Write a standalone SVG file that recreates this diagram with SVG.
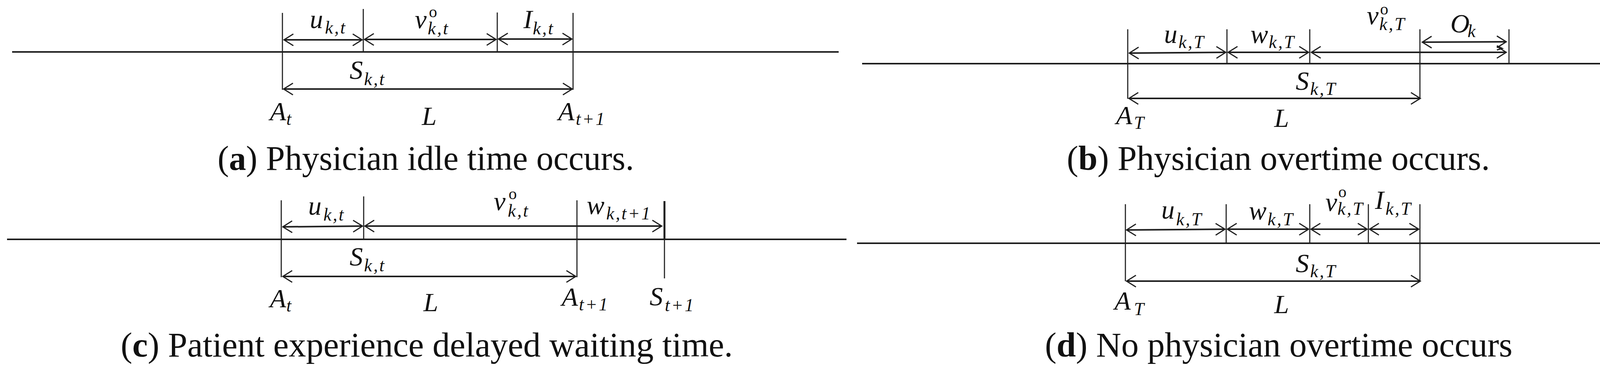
<svg xmlns="http://www.w3.org/2000/svg" width="4370" height="963" viewBox="0 0 4370 963">
<style>
.ln{stroke:#1e1e1e;stroke-width:4;fill:none}
.tk{stroke:#1e1e1e;stroke-width:2.8;fill:none}
.tkb{stroke:#1e1e1e;stroke-width:5;fill:none}
.ar{stroke:#1e1e1e;stroke-width:4;fill:none;marker-start:url(#h);marker-end:url(#h)}
.ae{stroke:#1e1e1e;stroke-width:4;fill:none;marker-end:url(#h)}
.zz{stroke:#1e1e1e;stroke-width:3;fill:none}
.m{font-family:"Liberation Serif","DejaVu Serif",serif;font-style:italic;font-size:68px;fill:#111}
.s{font-size:46px;letter-spacing:3.5px}
.o{font-style:normal;font-size:42px;letter-spacing:0}
.cap{font-family:"Liberation Serif","DejaVu Serif",serif;font-size:88px;fill:#111}
.cap .b{font-weight:bold}
</style>
<defs>
<marker id="h" markerUnits="userSpaceOnUse" viewBox="-30 -20 34 40" refX="0" refY="0" markerWidth="34" markerHeight="40" orient="auto-start-reverse">
<path d="M-24,-15 L0,0 L-24,15" fill="none" stroke="#1e1e1e" stroke-width="3"/>
</marker>
</defs>
<rect width="4370" height="963" fill="#fff"/>

<g id="panel-a">
<g id="a-connectors">
<line class="ln" x1="31" y1="133" x2="2147" y2="133"/>
<line class="tk" x1="723" y1="33" x2="723" y2="230"/>
<line class="tk" x1="930" y1="23" x2="930" y2="133"/>
<line class="tk" x1="1273" y1="32" x2="1273" y2="133"/>
<line class="tk" x1="1467" y1="33" x2="1467" y2="230"/>
<line class="ar" x1="727" y1="102" x2="927" y2="102"/>
<line class="ar" x1="933" y1="101" x2="1270" y2="101"/>
<line class="ar" x1="1276" y1="100" x2="1464" y2="100"/>
<line class="ar" x1="726" y1="228" x2="1465" y2="228"/>
</g>
<g id="a-labels">
<text class="m" x="793" y="72">u<tspan class="s" x="832" y="86">k,t</tspan></text>
<text class="m" x="1062" y="72">v<tspan class="o" x="1098" y="44">o</tspan><tspan class="s" x="1095" y="88">k,t</tspan></text>
<text class="m" x="1340" y="72">I<tspan class="s" x="1364" y="88">k,t</tspan></text>
<text class="m" x="895" y="202">S<tspan class="s" x="932" y="218">k,t</tspan></text>
<text class="m" x="691" y="308">A<tspan class="s" x="733" y="320">t</tspan></text>
<text class="m" x="1080" y="320">L</text>
<text class="m" x="1429" y="308">A<tspan class="s" x="1474" y="320">t+1</tspan></text>
</g>
<text class="cap" x="557" y="435" textLength="1066" lengthAdjust="spacingAndGlyphs">(<tspan class="b">a</tspan>) Physician idle time occurs.</text>
</g>

<g id="panel-b">
<g id="b-connectors">
<line class="ln" x1="2207" y1="163" x2="4340" y2="163"/>
<line class="tk" x1="2887" y1="75" x2="2887" y2="253"/>
<line class="tk" x1="3141" y1="75" x2="3141" y2="163"/>
<line class="tk" x1="3353" y1="75" x2="3353" y2="163"/>
<line class="tk" x1="3635" y1="75" x2="3635" y2="253"/>
<line class="tk" x1="3863" y1="75" x2="3863" y2="163"/>
<line class="ar" x1="2891" y1="136" x2="3138" y2="134"/>
<line class="ar" x1="3357" y1="134" x2="3856" y2="134"/>
<line class="ar" x1="3144" y1="134" x2="3350" y2="134"/>
<line class="ar" x1="3641" y1="108" x2="3856" y2="107"/>
<line class="ar" x1="2890" y1="252" x2="3636" y2="252"/>
<path class="zz" d="M3832,117 L3846,124 L3832,128"/>
</g>
<g id="b-labels">
<text class="m" x="2980" y="110">u<tspan class="s" x="3017" y="123">k,T</tspan></text>
<text class="m" x="3201" y="110">w<tspan class="s" x="3248" y="123">k,T</tspan></text>
<text class="m" x="3499" y="62">v<tspan class="o" x="3533" y="37">o</tspan><tspan class="s" x="3531" y="77">k,T</tspan></text>
<text class="m" x="3713" y="83">O<tspan class="s" x="3757" y="95">k</tspan></text>
<text class="m" x="3317" y="230">S<tspan class="s" x="3354" y="243">k,T</tspan></text>
<text class="m" x="2857" y="318">A<tspan class="s" x="2903" y="330">T</tspan></text>
<text class="m" x="3262" y="325">L</text>
</g>
<text class="cap" x="2731" y="435" textLength="1083" lengthAdjust="spacingAndGlyphs">(<tspan class="b">b</tspan>) Physician overtime occurs.</text>
</g>

<g id="panel-c">
<g id="c-connectors">
<line class="ln" x1="18" y1="613" x2="2167" y2="613"/>
<line class="tk" x1="720" y1="513" x2="720" y2="710"/>
<line class="tk" x1="931" y1="503" x2="931" y2="613"/>
<line class="tk" x1="1477" y1="513" x2="1477" y2="710"/>
<line class="tkb" x1="1701" y1="515" x2="1701" y2="613"/>
<line class="tk" x1="1701" y1="613" x2="1701" y2="713"/>
<line class="ar" x1="724" y1="581" x2="928" y2="579"/>
<line class="ar" x1="934" y1="579" x2="1694" y2="579"/>
<line class="ar" x1="724" y1="708" x2="1474" y2="708"/>
</g>
<g id="c-labels">
<text class="m" x="789" y="550">u<tspan class="s" x="828" y="565">k,t</tspan></text>
<text class="m" x="1264" y="538">v<tspan class="o" x="1302" y="510">o</tspan><tspan class="s" x="1300" y="555">k,t</tspan></text>
<text class="m" x="1502" y="548">w<tspan class="s" x="1552" y="562">k,t+1</tspan></text>
<text class="m" x="895" y="680">S<tspan class="s" x="932" y="695">k,t</tspan></text>
<text class="m" x="691" y="787">A<tspan class="s" x="733" y="798">t</tspan></text>
<text class="m" x="1084" y="797">L</text>
<text class="m" x="1438" y="783">A<tspan class="s" x="1482" y="795">t+1</tspan></text>
<text class="m" x="1663" y="782">S<tspan class="s" x="1702" y="797">t+1</tspan></text>
</g>
<text class="cap" x="309" y="913" textLength="1567" lengthAdjust="spacingAndGlyphs">(<tspan class="b">c</tspan>) Patient experience delayed waiting time.</text>
</g>

<g id="panel-d">
<g id="d-connectors">
<line class="ln" x1="2194" y1="623" x2="4347" y2="623"/>
<line class="tk" x1="2881" y1="523" x2="2881" y2="720"/>
<line class="tk" x1="3139" y1="523" x2="3139" y2="623"/>
<line class="tk" x1="3353" y1="523" x2="3353" y2="623"/>
<line class="tk" x1="3503" y1="523" x2="3503" y2="623"/>
<line class="tk" x1="3635" y1="523" x2="3635" y2="720"/>
<line class="ar" x1="2884" y1="589" x2="3136" y2="587"/>
<line class="ar" x1="3142" y1="587" x2="3350" y2="587"/>
<line class="ar" x1="3356" y1="587" x2="3500" y2="587"/>
<line class="ar" x1="3506" y1="587" x2="3632" y2="587"/>
<line class="ar" x1="2884" y1="720" x2="3636" y2="720"/>
</g>
<g id="d-labels">
<text class="m" x="2973" y="560">u<tspan class="s" x="3011" y="577">k,T</tspan></text>
<text class="m" x="3197" y="562">w<tspan class="s" x="3245" y="577">k,T</tspan></text>
<text class="m" x="3393" y="540">v<tspan class="o" x="3426" y="505">o</tspan><tspan class="s" x="3424" y="550">k,T</tspan></text>
<text class="m" x="3520" y="535">I<tspan class="s" x="3547" y="550">k,T</tspan></text>
<text class="m" x="3317" y="697">S<tspan class="s" x="3354" y="710">k,T</tspan></text>
<text class="m" x="2853" y="793">A<tspan class="s" x="2903" y="807">T</tspan></text>
<text class="m" x="3262" y="802">L</text>
</g>
<text class="cap" x="2675" y="913" textLength="1197" lengthAdjust="spacingAndGlyphs">(<tspan class="b">d</tspan>) No physician overtime occurs</text>
</g>
</svg>
